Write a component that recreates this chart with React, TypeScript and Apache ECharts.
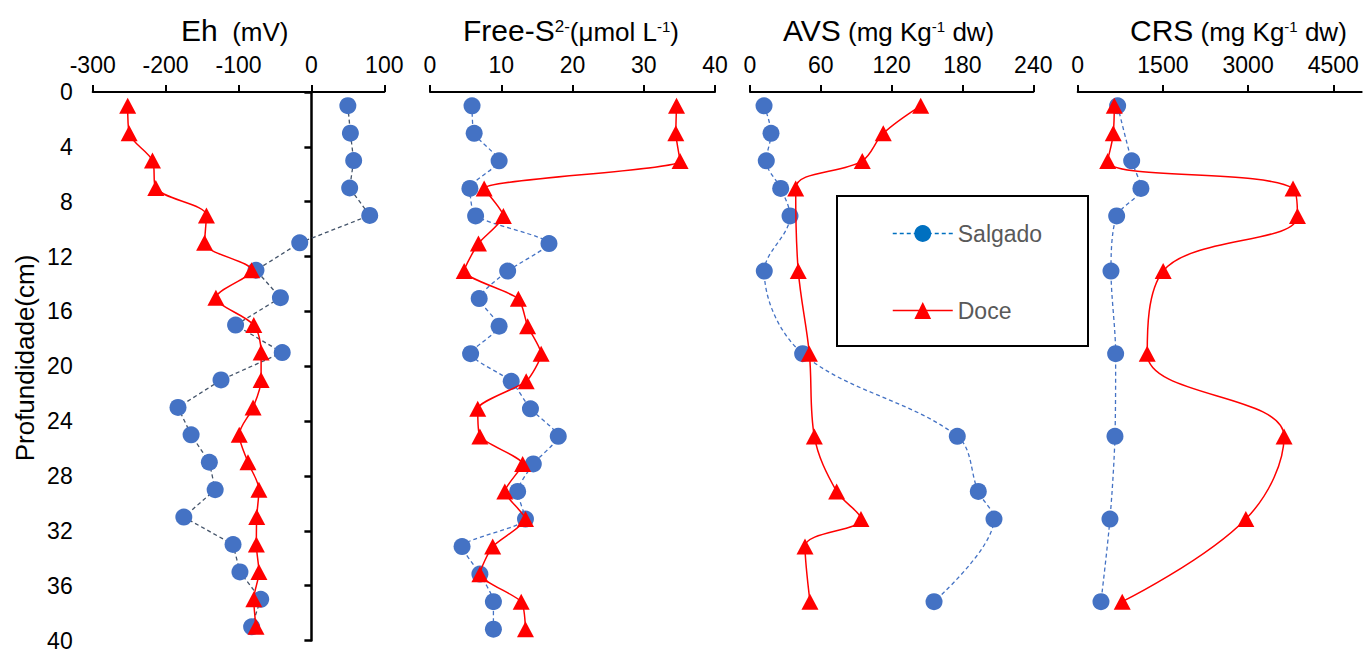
import React, { useEffect, useRef } from "react";
import * as echarts from "echarts";

const FONT = "'Liberation Sans', Arial, sans-serif";

// Depths (cm)
const depths = [1, 3, 5, 7, 9, 11, 13, 15, 17, 19, 21, 23, 25, 27, 29, 31, 33, 35, 37, 39];

// Eh (mV)
const ehSalgado = [50, 53.5, 58, 52.5, 80, -16, -76, -42.5, -104, -40, -124, -183, -165, -140, -132, -175, -107.5, -98, -69.5, -82];
const ehDoce = [-252, -250, -218, -213.5, -144, -146.5, -82, -131, -79, -69, -69, -80, -99, -87, -72, -75, -75.5, -72, -79, -76];

// Free-S2- (umol/L)
const freeSalgado = [5.9, 6.2, 9.7, 5.6, 6.4, 16.7, 10.9, 6.9, 9.7, 5.7, 11.4, 14.1, 18.0, 14.5, 12.3, 13.4, 4.5, 7.0, 8.9, 8.9];
const freeDoce = [34.6, 34.5, 35.1, 7.6, 10.3, 6.8, 4.8, 12.4, 13.7, 15.6, 13.5, 6.7, 7.0, 13.0, 10.5, 13.4, 8.8, 7.0, 12.8, 13.4];

// AVS (mg/kg dw)
const avsSalgadoDepth = [1, 3, 5, 7, 9, 13, 19, 25, 29, 31, 37];
const avsSalgado = [11.9, 17.8, 13.8, 26, 33.9, 12.1, 44.6, 175.6, 193.4, 206.7, 155.9];
const avsDoceDepth = [1, 3, 5, 7, 13, 19, 25, 29, 31, 33, 37];
const avsDoce = [144.6, 112.9, 95.1, 38.7, 40.9, 50.3, 54.5, 73.4, 94.0, 46.6, 50.8];

// CRS (mg/kg dw)
const crsSalgadoDepth = [1, 5, 7, 9, 13, 19, 25, 31, 37];
const crsSalgado = [703, 950, 1113, 686, 586, 668, 656, 568, 410];
const crsDoceDepth = [1, 3, 5, 7, 9, 13, 19, 25, 31, 37];
const crsDoce = [644, 626, 528, 3791, 3869, 1505, 1224, 3633, 2960, 784];

const crsTicks = [0, 1500, 3000, 4500];

const BLUE = "#4472C4";
const RED = "#FF0000";

function pairs(xs: number[], ds: number[]) {
  return xs.map((v, i) => [v, ds[i]]);
}

export default function App() {
  const ref = useRef<HTMLDivElement>(null);

  useEffect(() => {
    if (!ref.current) return;
    const chart = echarts.init(ref.current, undefined, { renderer: "svg" });

    const gridTop = 92;
    const gridH = 551;
    const grids = [
      { left: 92.7, top: gridTop, width: 291.6, height: gridH },
      { left: 430, top: gridTop, width: 285, height: gridH },
      { left: 750, top: gridTop, width: 283.3, height: gridH },
      { left: 1077.7, top: gridTop, width: 284, height: gridH },
    ];

    const baseX = (gi: number, min: number, max: number, interval: number, extra: any = {}) => ({
      type: "value",
      gridIndex: gi,
      position: "top",
      min,
      max,
      interval,
      splitLine: { show: false },
      axisLine: { show: true, onZero: false, lineStyle: { color: "#000", width: 2 } },
      axisTick: { show: true, length: 7, lineStyle: { color: "#000", width: 2 }, ...(extra.axisTick || {}) },
      axisLabel: {
        color: "#000",
        fontSize: 23,
        fontFamily: FONT,
        margin: 16,
        hideOverlap: false,
        formatter: (v: number) => String(v),
        ...(extra.axisLabel || {}),
      },
    });

    const hiddenY = (gi: number) => ({
      type: "value",
      gridIndex: gi,
      min: 0,
      max: 40,
      interval: 4,
      inverse: true,
      show: false,
      splitLine: { show: false },
    });

    const richStyles = {
      big: { fontSize: 30, fontFamily: FONT, color: "#000", verticalAlign: "bottom" },
      med: { fontSize: 26, fontFamily: FONT, color: "#000", verticalAlign: "bottom" },
      sup: { fontSize: 17, fontFamily: FONT, color: "#000", verticalAlign: "top", padding: [3, 0, 0, 0] },
      sup2: { fontSize: 15, fontFamily: FONT, color: "#000", verticalAlign: "top", padding: [4, 0, 0, 0] },
    };

    const title = (x: number, text: string) => ({
      type: "text",
      x,
      y: 30,
      style: {
        text,
        rich: richStyles,
        verticalAlign: "middle",
        align: "left",
        fill: "#000",
      },
    });

    const blueSeries = (name: string, xi: number, yi: number, data: number[][], lineColor: string, smooth: number | boolean) => ({
      name,
      type: "line",
      xAxisIndex: xi,
      yAxisIndex: yi,
      data,
      smooth,
      symbol: "circle",
      symbolSize: 17,
      itemStyle: { color: BLUE },
      lineStyle: { color: lineColor, width: 1.3, type: [4, 3] },
      z: 2,
    });

    const redSeries = (name: string, xi: number, yi: number, data: number[][], smooth: number | boolean) => ({
      name,
      type: "line",
      xAxisIndex: xi,
      yAxisIndex: yi,
      data,
      smooth,
      symbol: "triangle",
      symbolSize: [17, 16],
      itemStyle: { color: RED },
      lineStyle: { color: RED, width: 1.5 },
      z: 3,
    });

    const option: any = {
      animation: false,
      backgroundColor: "#fff",
      grid: grids,
      xAxis: [
        baseX(0, -300, 100, 100),
        baseX(1, 0, 40, 10),
        baseX(2, 0, 240, 60),
        baseX(3, 0, 5000, 1500, {
          axisLabel: { customValues: crsTicks },
          axisTick: { customValues: crsTicks },
        }),
      ],
      yAxis: [
        {
          type: "value",
          gridIndex: 0,
          position: "left",
          min: 0,
          max: 40,
          interval: 4,
          inverse: true,
          splitLine: { show: false },
          axisLine: { show: false, onZero: false },
          axisTick: { show: false },
          axisLabel: { color: "#000", fontSize: 23, fontFamily: FONT, margin: 20 },
        },
        {
          type: "value",
          gridIndex: 0,
          position: "left",
          min: 0,
          max: 40,
          interval: 4,
          inverse: true,
          splitLine: { show: false },
          axisLine: { show: true, onZero: true, lineStyle: { color: "#000", width: 2.5 } },
          axisTick: { show: true, length: 7, lineStyle: { color: "#000", width: 2.5 } },
          axisLabel: { show: false },
        },
        hiddenY(1),
        hiddenY(2),
        hiddenY(3),
      ],
      legend: {
        orient: "vertical",
        left: 892,
        top: 222,
        padding: 0,
        itemWidth: 60,
        itemHeight: 21,
        itemGap: 54,
        textStyle: { color: "#595959", fontSize: 23, fontFamily: FONT, lineHeight: 21 },
        data: [
          {
            name: "Salgado",
            itemStyle: { color: "#0070C0" },
            lineStyle: { color: "#0070C0", type: [4, 3], width: 1.3 },
          },
          { name: "Doce", itemStyle: { color: RED }, lineStyle: { color: RED, width: 1.5 } },
        ],
      },
      graphic: [
        {
          type: "rect",
          shape: { x: 837, y: 196, width: 251, height: 150 },
          style: { fill: "none", stroke: "#000", lineWidth: 2 },
          z: 1,
        },
        title(181, "{big|Eh}{med|  (mV)}"),
        title(463, "{big|Free-S}{sup|2-}{med|(μmol L}{sup2|-1}{med|)}"),
        title(783, "{big|AVS}{med| (mg Kg}{sup2|-1}{med| dw)}"),
        title(1130, "{big|CRS}{med| (mg Kg}{sup2|-1}{med| dw)}"),
        {
          type: "text",
          x: 25,
          y: 358,
          rotation: Math.PI / 2,
          style: {
            text: "Profundidade(cm)",
            fontSize: 26,
            fontFamily: FONT,
            fill: "#000",
            align: "center",
            verticalAlign: "middle",
          },
        },
      ],
      series: [
        blueSeries("Salgado", 0, 0, pairs(ehSalgado, depths), "#44546A", false),
        redSeries("Doce", 0, 0, pairs(ehDoce, depths), 0.3),
        blueSeries("Salgado", 1, 2, pairs(freeSalgado, depths), BLUE, 0.2),
        redSeries("Doce", 1, 2, pairs(freeDoce, depths), 0.2),
        blueSeries("Salgado", 2, 3, pairs(avsSalgado, avsSalgadoDepth), BLUE, 0.35),
        redSeries("Doce", 2, 3, pairs(avsDoce, avsDoceDepth), 0.35),
        blueSeries("Salgado", 3, 4, pairs(crsSalgado, crsSalgadoDepth), BLUE, 0.3),
        redSeries("Doce", 3, 4, pairs(crsDoce, crsDoceDepth), 0.4),
      ],
    };

    chart.setOption(option);
    return () => chart.dispose();
  }, []);

  return (
    <div
      ref={ref}
      style={{ position: "fixed", left: 0, top: 0, width: 1365, height: 652, background: "#fff" }}
    />
  );
}
